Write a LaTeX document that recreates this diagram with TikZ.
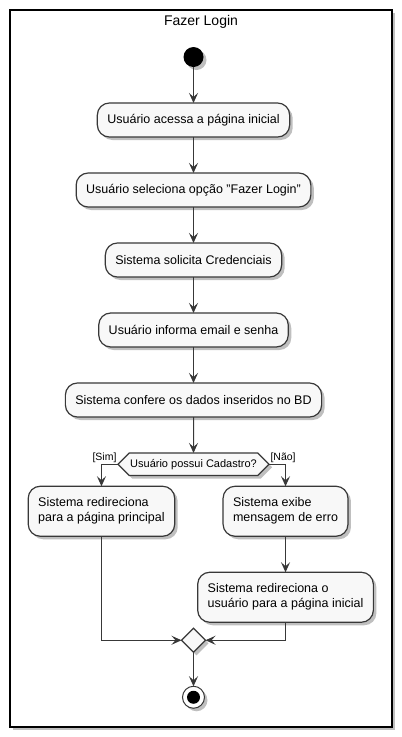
\documentclass[tikz,border=0pt]{standalone}
\usepackage{fontspec}
\setmainfont{Liberation Sans}
\usetikzlibrary{positioning,shapes.geometric,shapes.symbols,arrows.meta,shadows}

\definecolor{linha}{HTML}{383838}
\definecolor{fundo}{HTML}{F8F8F8}

\tikzset{
  sombra/.style={drop shadow={shadow xshift=3pt,shadow yshift=-3pt,fill=black,opacity=0.25}},
  atividade/.style={draw=linha,fill=fundo,line width=1.2pt,rounded corners=12pt,
    minimum height=34pt,inner xsep=10pt,inner ysep=8pt,outer sep=0pt,align=left,
    font=\fontsize{12.5}{15}\selectfont,sombra},
  duaslinhas/.style={atividade,minimum height=50pt},
  decisao/.style={signal,signal to=west and east,signal pointer angle=90,
    draw=linha,fill=fundo,line width=1.2pt,inner xsep=1pt,inner ysep=6pt,outer sep=0pt,
    text height=8pt,text depth=2.5pt,font=\fontsize{11}{13}\selectfont,sombra},
  juncao/.style={diamond,draw=linha,fill=fundo,line width=1.2pt,
    minimum width=24pt,minimum height=24pt,inner sep=0pt,outer sep=0pt,sombra},
  inicio/.style={circle,fill=black,minimum size=20pt,inner sep=0pt,outer sep=0pt,sombra},
  fim/.style={circle,draw=linha,fill=white,line width=1pt,minimum size=22pt,inner sep=0pt,outer sep=0pt,
    path picture={\fill[black] (path picture bounding box.center) circle (6.5pt);},sombra},
  guarda/.style={font=\fontsize{10.5}{12}\selectfont,inner sep=1pt},
  moldura/.style={draw=black,line width=1.5pt,fill=white,sombra}
}

\begin{document}
\begin{tikzpicture}[x=1pt,y=1pt,node distance=36pt,
  >={Stealth[length=10pt,width=9pt,inset=4pt]},
  every edge/.style={draw=linha,line width=1pt}]
\useasboundingbox (0,0) rectangle (402,-737);
\draw[moldura] (10,-10) rectangle (392,-727);
\node[font=\fontsize{14}{17}\selectfont] (titulo) at (201,-22) {Fazer Login};

\node[inicio]     (start)     at (193.5,-57)  {};
\node[atividade]  (acessa)    [below=of start]     {Usuário acessa a página inicial};
\node[atividade]  (seleciona) [below=of acessa]    {Usuário seleciona opção "Fazer Login"};
\node[atividade]  (solicita)  [below=of seleciona] {Sistema solicita Credenciais};
\node[atividade]  (informa)   [below=of solicita]  {Usuário informa email e senha};
\node[atividade]  (confere)   [below=of informa]   {Sistema confere os dados inseridos no BD};
\node[decisao]    (cadastro)  [below=of confere]   {Usuário possui Cadastro?};
\node[duaslinhas] (principal) [below=22pt of cadastro.west,xshift=-16.5pt] {Sistema redireciona\\para a página principal};
\node[duaslinhas] (erro)      [below=22pt of cadastro.east,xshift=16.5pt]  {Sistema exibe\\mensagem de erro};
\node[duaslinhas] (inicial)   [below=of erro]      {Sistema redireciona o\\usuário para a página inicial};
\coordinate (junta) at (inicial.south -| cadastro.south);
\node[juncao]     (merge)     [below=6pt of junta]  {};
\node[fim]        (stop)      [below=34pt of merge] {};

\path[->] (start)     edge (acessa)
          (acessa)    edge (seleciona)
          (seleciona) edge (solicita)
          (solicita)  edge (informa)
          (informa)   edge (confere)
          (confere)   edge (cadastro)
          (erro)      edge (inicial)
          (merge)     edge (stop);

\draw[->,draw=linha,line width=1pt] (cadastro.west) -| node[guarda,pos=0,above left] {[Sim]} (principal.north);
\draw[->,draw=linha,line width=1pt] (cadastro.east) -| node[guarda,pos=0,above right] {[Não]} (erro.north);
\draw[->,draw=linha,line width=1pt] (principal.south) |- (merge.west);
\draw[->,draw=linha,line width=1pt] (inicial.south) |- (merge.east);
\end{tikzpicture}
\end{document}
